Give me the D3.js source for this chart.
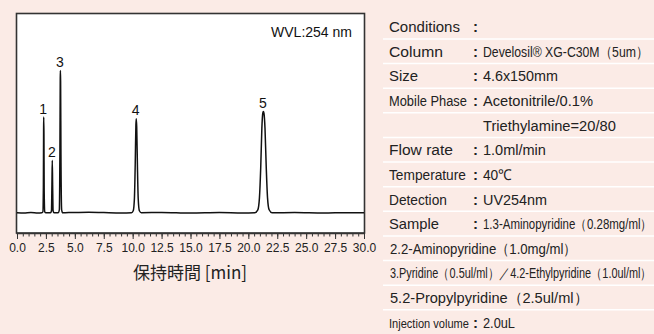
<!DOCTYPE html>
<html><head><meta charset="utf-8">
<script src="https://cdn.jsdelivr.net/npm/d3@7"></script>
<style>
html,body{margin:0;padding:0;background:#fbebe6;}
svg{display:block;}
</style></head>
<body>
<svg id="c" width="654" height="334"></svg>
<script>
// ---- chromatogram data (time in min, detector signal in arbitrary units) ----
const traceTime = [0.00,0.6,1.2,1.8,2.15,2.24,2.28,2.30,2.31,2.33,2.35,2.40,2.5,
  2.90,2.98,3.02,3.05,3.08,3.12,3.20,
  3.55,3.66,3.71,3.74,3.75,3.77,3.80,3.86,3.95,
  4.8,6.2,7.5,9.0,
  9.9,10.05,10.15,10.22,10.28,10.31,10.35,10.41,10.48,10.58,10.75,
  12.5,15.0,17.5,19.5,
  20.55,20.82,20.96,21.07,21.17,21.25,21.30,21.35,21.44,21.55,21.66,21.80,22.05,
  24.0,26.5,28.5,30.0];
const traceSignal = [0,-0.3,0.2,-0.2,0,1,25,82,96,78,22,1,0,
  0,2,28,52.7,28,2,0,
  0,3,60,135,142.7,132,58,3,0,
  0.3,0.6,0.2,-0.2,
  0,2,14,48,88,94.4,86,48,14,2,0,
  0.3,-0.3,0.2,-0.2,
  0,3,15,45,85,100,101.7,100,85,45,15,3,0,
  0.2,-0.3,0.1,0];

const peakLabels = ["1","2","3","4","5"];
const peakTimes  = [2.31,3.05,3.75,10.31,21.30];
const peakHeights= [96,52.7,142.7,94.4,101.7];

const majorTicks = [0,2.5,5,7.5,10,12.5,15,17.5,20,22.5,25,27.5,30];
const tickLabels = ["0.0","2.5","5.0","7.5","10.0","12.5","15.0","17.5","20.0","22.5","25.0","27.5","30.0"];
const minorTicks = d3.range(0,30.01,0.5);

const xTitle = "保持時間 [min]";
const wvlText = "WVL:254 nm";

// ---- conditions table ----
const condLabels = ["Conditions","Column","Size","Mobile Phase","","Flow rate","Temperature","Detection","Sample","","","","Injection volume"];
const condValues = ["","Develosil® XG-C30M（5um）","4.6x150mm","Acetonitrile/0.1%","Triethylamine=20/80","1.0ml/min","40℃","UV254nm","1.3-Aminopyridine（0.28mg/ml）",
  "2.2-Aminopyridine（1.0mg/ml）","3.Pyridine（0.5ul/ml）／4.2-Ethylpyridine（1.0ul/ml）","5.2-Propylpyridine（2.5ul/ml）","2.0uL"];
const condColon = [true,true,true,true,false,true,true,true,true,false,false,false,true];

// ---- drawing ----
const svg = d3.select("#c");
const box = {l:16.5, t:13.5, r:364.5, b:233};
const x = d3.scaleLinear().domain([0,30]).range([17,364]);
const y = d3.scaleLinear().domain([-20.3,200]).range([233,13.5]);

svg.append("rect").attr("x",box.l).attr("y",box.t).attr("width",box.r-box.l).attr("height",box.b-box.t)
  .attr("fill","#fff").attr("stroke","#333").attr("stroke-width",1.6);

const pts = traceTime.map((t,i)=>[t,traceSignal[i]]);
svg.append("path").datum(pts)
  .attr("d",d3.line().x(d=>x(d[0])).y(d=>y(d[1])).curve(d3.curveMonotoneX))
  .attr("fill","none").attr("stroke","#111").attr("stroke-width",1.5).attr("stroke-linejoin","round");

// peak labels
svg.append("g").selectAll("text").data(peakLabels).join("text")
  .attr("x",(d,i)=>x(peakTimes[i])-0.5).attr("y",(d,i)=>y(peakHeights[i])-3.5)
  .attr("text-anchor","middle").attr("font-family","Liberation Sans, Arial, sans-serif")
  .attr("font-size",14).attr("fill","#111").text(d=>d);

svg.append("text").attr("x",352).attr("y",36.5).attr("text-anchor","end")
  .attr("font-family","Liberation Sans, Arial, sans-serif").attr("font-size",14).attr("fill","#111").text(wvlText);

// axes
const gMinor = svg.append("g").attr("transform",`translate(0,${box.b})`)
  .call(d3.axisBottom(x).tickValues(minorTicks).tickSize(3.5).tickFormat(""));
gMinor.select(".domain").remove();
gMinor.selectAll("line").attr("stroke","#333");
const gMajor = svg.append("g").attr("transform",`translate(0,${box.b})`)
  .call(d3.axisBottom(x).tickValues(majorTicks).tickSize(6).tickPadding(4).tickFormat((d,i)=>tickLabels[i]));
gMajor.select(".domain").attr("stroke","#333").attr("stroke-width",1.6).attr("d",`M${box.l},0.5H${box.r}`);
gMajor.selectAll("line").attr("stroke","#333");
gMajor.selectAll("text").attr("font-family","Liberation Sans, Arial, sans-serif")
  .attr("font-size",12).attr("fill","#222");

svg.append("text").attr("x",190).attr("y",279).attr("text-anchor","middle")
  .attr("font-family","Noto Sans CJK JP, sans-serif").attr("font-size",17).attr("fill","#222").text(xTitle);

// conditions table
const row0 = 26.7, rowH = 24.62;
const tg = svg.append("g").attr("font-family","Liberation Sans, Arial, sans-serif").attr("fill","#222");
function fitText(str, tx, ty, size, target) {
  const t = tg.append("text").attr("x",0).attr("y",0).attr("font-size",size).text(str);
  const w = t.node().getComputedTextLength();
  const s = target ? target / w : 1;
  t.attr("transform",`translate(${tx},${ty}) scale(${s},1)`);
  return t;
}
const labLen = { "Conditions":71,"Column":54,"Size":29,"Mobile Phase":78,"Flow rate":64,"Temperature":77,"Detection":58,"Sample":50,"Injection volume":80 };
const valLen = [0,165,75,110,133,63,29,64,169,187,260,198,32];
condLabels.forEach((lab,i)=>{
  const cy = row0 + i*rowH;
  if (i < condLabels.length-1) {
    tg.append("line").attr("x1",383).attr("x2",654).attr("y1",cy+12.3).attr("y2",cy+12.3)
      .attr("stroke","#fff").attr("stroke-width",1.5);
  }
  if (lab) {
    const small = lab==="Injection volume";
    fitText(lab, 389, cy+5.5, small?12.5:15, labLen[lab]);
  }
  if (condColon[i]) {
    tg.append("text").attr("x",475.5).attr("y",cy+5.5).attr("font-size",15).attr("font-weight","bold")
      .attr("text-anchor","middle").text(":");
  }
  const v = condValues[i];
  if (v) {
    const full = !condColon[i] && i>=9;
    const sz = (i===8 || i===10) ? 14 : 15;
    fitText(v, full?390:483, cy+5.5, sz, valLen[i]);
  }
});
</script>
</body></html>
